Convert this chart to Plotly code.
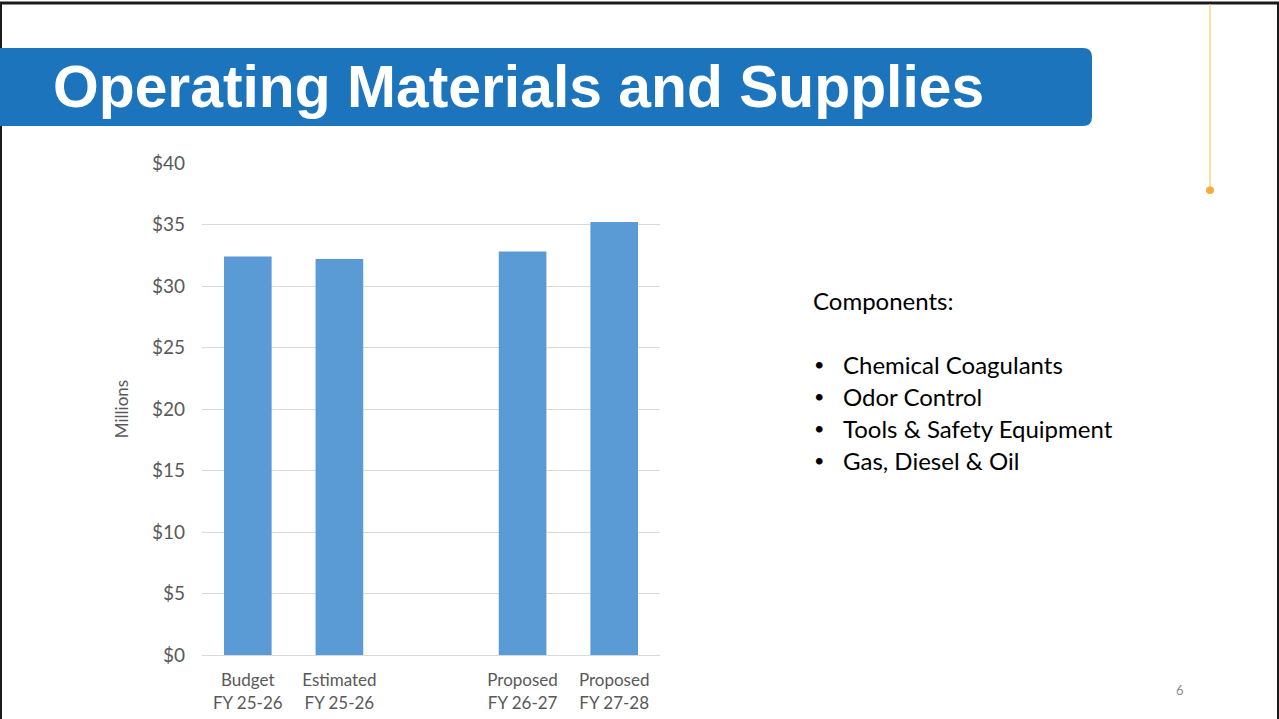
import plotly.graph_objects as go

categories = ["Budget<br>FY 25-26", "Estimated<br>FY 25-26", " ", "Proposed<br>FY 26-27", "Proposed<br>FY 27-28"]
values = [32.4, 32.2, None, 32.8, 35.2]
y_ticks = [0, 5, 10, 15, 20, 25, 30, 35, 40]
y_tick_labels = ["$" + str(v) for v in y_ticks]
components = ["Chemical Coagulants", "Odor Control", "Tools & Safety Equipment", "Gas, Diesel & Oil"]

W, H = 1279, 719
L, R, T, B = 202, 660, 163, 655

def px(x):
    return (x - L) / (R - L)

def py(y):
    return (B - y) / (B - T)

fig = go.Figure()
fig.add_trace(go.Bar(x=categories, y=values, marker_color="#5B9BD5", width=0.52,
                     marker_line_width=0))

font_txt = "Lato, Carlito, Calibri, sans-serif"

fig.update_layout(
    width=W, height=H,
    margin=dict(l=L, r=W - R, t=T, b=H - B, autoexpand=False),
    plot_bgcolor="white", paper_bgcolor="white",
    showlegend=False,
    font=dict(family=font_txt, color="#595959", size=17),
    xaxis=dict(type="category", showgrid=False, showline=True, linecolor="#d9d9d9",
               automargin=False,
               ticks="", ticklabelstandoff=10, tickfont=dict(size=17, color="#595959")),
    yaxis=dict(range=[0, 40], tickmode="array", tickvals=y_ticks, ticktext=y_tick_labels,
               automargin=False,
               showgrid=True, gridcolor="#d9d9d9", gridwidth=1, zeroline=False, showline=False,
               ticks="", ticklen=0, ticklabelstandoff=16, tickfont=dict(size=19, color="#595959"),
               title=dict(text="Millions", font=dict(size=17, color="#595959"), standoff=18)),
)

shapes = []
# slide border
shapes.append(dict(type="line", xref="paper", yref="paper", x0=px(0), x1=px(1279), y0=py(3), y1=py(3),
                   line=dict(color="#1a1a1a", width=3)))
shapes.append(dict(type="line", xref="paper", yref="paper", x0=px(1), x1=px(1), y0=py(3), y1=py(719),
                   line=dict(color="#1a1a1a", width=2)))
shapes.append(dict(type="line", xref="paper", yref="paper", x0=px(1278), x1=px(1278), y0=py(3), y1=py(719),
                   line=dict(color="#1a1a1a", width=2)))
# title bar with rounded right corners
x0, x1, yt, yb, r = 0, 1092, 48, 126, 9
path = (f"M {px(x0)},{py(yt)} L {px(x1 - r)},{py(yt)} "
        f"Q {px(x1)},{py(yt)} {px(x1)},{py(yt + r)} "
        f"L {px(x1)},{py(yb - r)} Q {px(x1)},{py(yb)} {px(x1 - r)},{py(yb)} "
        f"L {px(x0)},{py(yb)} Z")
shapes.append(dict(type="path", xref="paper", yref="paper", path=path,
                   fillcolor="#1C75BC", line=dict(width=0)))
# orange line and dot
shapes.append(dict(type="line", xref="paper", yref="paper", x0=px(1210), x1=px(1210), y0=py(4), y1=py(189),
                   line=dict(color="#FFC46B", width=1.2)))
shapes.append(dict(type="circle", xref="paper", yref="paper", x0=px(1206), x1=px(1214), y0=py(186.5), y1=py(194),
                   fillcolor="#F7A93B", line=dict(width=0)))
fig.update_layout(shapes=shapes)

ann = []
ann.append(dict(text="<b>Operating Materials and Supplies</b>", xref="paper", yref="paper",
                x=px(51), y=py(87), xanchor="left", yanchor="middle", showarrow=False,
                font=dict(family="Liberation Sans, Arial, sans-serif", size=58.8, color="white")))
ann.append(dict(text="Components:", xref="paper", yref="paper", x=px(811), y=py(300),
                xanchor="left", yanchor="middle", showarrow=False,
                font=dict(family=font_txt, size=24, color="black")))
for i, c in enumerate(components):
    yy = 364 + 32 * i
    ann.append(dict(text="•", xref="paper", yref="paper", x=px(812), y=py(yy),
                    xanchor="left", yanchor="middle", showarrow=False,
                    font=dict(family=font_txt, size=18, color="black")))
    ann.append(dict(text=c, xref="paper", yref="paper", x=px(841), y=py(yy),
                    xanchor="left", yanchor="middle", showarrow=False,
                    font=dict(family=font_txt, size=24, color="black")))
ann.append(dict(text="6", xref="paper", yref="paper", x=px(1180), y=py(690),
                xanchor="center", yanchor="middle", showarrow=False,
                font=dict(family=font_txt, size=13, color="#8c8c8c")))
fig.update_layout(annotations=ann)

fig.write_html("out.html", config={"displayModeBar": False},
               post_script="document.body.style.margin='0';")
